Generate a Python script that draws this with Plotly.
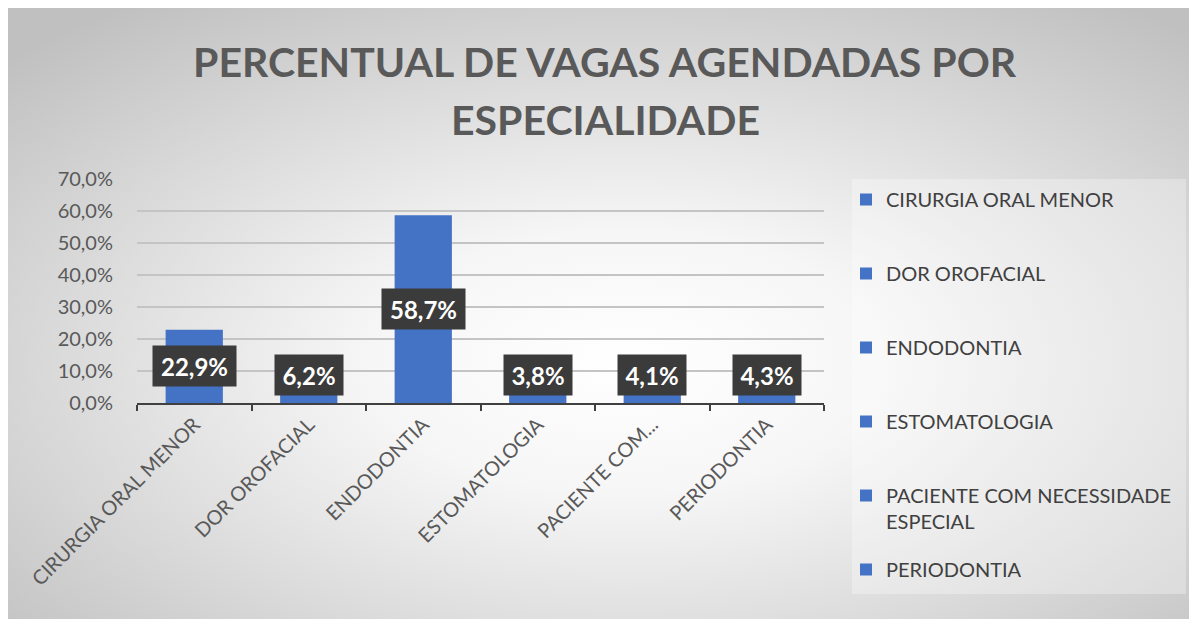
import base64
import plotly.graph_objects as go

# ---- data ----
categories = ["CIRURGIA ORAL MENOR", "DOR OROFACIAL", "ENDODONTIA",
              "ESTOMATOLOGIA", "PACIENTE COM NECESSIDADE ESPECIAL", "PERIODONTIA"]
legend_names = ["CIRURGIA ORAL MENOR", "DOR OROFACIAL", "ENDODONTIA",
                "ESTOMATOLOGIA", "PACIENTE COM NECESSIDADE<br>ESPECIAL", "PERIODONTIA"]
tick_labels = ["CIRURGIA ORAL MENOR", "DOR OROFACIAL", "ENDODONTIA",
               "ESTOMATOLOGIA", "PACIENTE COM...", "PERIODONTIA"]
values = [22.9, 6.2, 58.7, 3.8, 4.1, 4.3]
y_ticks = [0, 10, 20, 30, 40, 50, 60, 70]
y_tick_labels = ["0,0%", "10,0%", "20,0%", "30,0%", "40,0%", "50,0%", "60,0%", "70,0%"]

title_lines = ["PERCENTUAL DE VAGAS AGENDADAS POR", "ESPECIALIDADE"]

BLUE = "#4472C4"
FONT = "Lato"
OFF = 8  # page body margin
W, H = 1197 - OFF, 619 - OFF
L, R, T, B = 137 - OFF, W - (824 - OFF), 179 - OFF, H - (403 - OFF)
PW, PH = W - L - R, H - T - B

def px_x(p):
    return (p - OFF - L) / PW

def px_y(p):
    return (H - B - (p - OFF)) / PH

fig = go.Figure()
for i, (c, v) in enumerate(zip(categories, values)):
    fig.add_trace(go.Bar(
        x=[c], y=[v], name=legend_names[i], legendgroup=str(i),
        legend="legend2" if i == len(categories) - 1 else "legend",
        marker=dict(color=BLUE, line=dict(width=0)),
        width=0.5, hoverinfo="skip",
    ))

# data labels
annotations = []
for c, v in zip(categories, values):
    txt = f"{v:.1f}".replace(".", ",") + "%"
    annotations.append(dict(
        x=c, y=max(v / 2, 8.9), xref="x", yref="y",
        text=f"<b>{txt}</b>", showarrow=False,
        font=dict(family=FONT, size=24, color="white"),
        bgcolor="#3b3b3b", borderpad=0,
        width=15 * len(txt) + 8, height=40,
        xanchor="center", yanchor="middle",
    ))

# title lines
for line, ypix in zip(title_lines, [61, 119]):
    annotations.append(dict(
        x=px_x(605), y=px_y(ypix), xref="paper", yref="paper",
        text=f"<b>{line}</b>", showarrow=False,
        font=dict(family=FONT, size=41, color="#595959"),
        xanchor="center", yanchor="middle",
    ))

# background radial gradient (SVG image)
svg = f'''<svg xmlns="http://www.w3.org/2000/svg" width="{W}" height="{H}" viewBox="0 0 {W} {H}" preserveAspectRatio="none">
<defs><radialGradient id="g" cx="52%" cy="58%" r="72%" fx="52%" fy="58%">
<stop offset="0" stop-color="#ffffff"/>
<stop offset="0.3" stop-color="#f6f6f6"/>
<stop offset="1" stop-color="#c0c0c0"/>
</radialGradient></defs>
<rect x="0" y="0" width="{W}" height="{H}" fill="url(#g)"/>
</svg>'''
src = "data:image/svg+xml;base64," + base64.b64encode(svg.encode()).decode()

legend_common = dict(
    xanchor="left", yanchor="top",
    font=dict(family=FONT, size=20, color="#404040"),
    bgcolor="rgba(0,0,0,0)", borderwidth=0,
    traceorder="grouped", tracegroupgap=45,
    itemwidth=30, maxheight=600, valign="top",
)

fig.update_layout(
    width=W, height=H,
    margin=dict(l=L, r=R, t=T, b=B, pad=0, autoexpand=False),
    paper_bgcolor="white", plot_bgcolor="rgba(0,0,0,0)",
    barmode="overlay",
    showlegend=True,
    legend=dict(x=px_x(846), y=px_y(180), **legend_common),
    legend2=dict(x=px_x(846), y=px_y(550), **legend_common),
    shapes=[dict(
        type="rect", xref="paper", yref="paper", layer="below",
        x0=px_x(852), x1=px_x(1186), y0=px_y(594), y1=px_y(179),
        fillcolor="rgba(255,255,255,0.3)", line=dict(width=0),
    )],
    annotations=annotations,
    images=[dict(
        source=src, xref="paper", yref="paper",
        x=px_x(OFF), y=px_y(OFF), sizex=W / PW, sizey=H / PH,
        xanchor="left", yanchor="top", sizing="stretch", layer="below",
    )],
    font=dict(family=FONT, color="#595959"),
)

fig.update_yaxes(
    range=[0, 70], tickvals=y_ticks, ticktext=y_tick_labels,
    showgrid=True, gridcolor="#c4c4c4", gridwidth=1.5,
    zeroline=False, showline=False, ticks="",
    tickfont=dict(family=FONT, size=20, color="#595959"),
    ticklabelstandoff=23,
)
fig.update_xaxes(
    categoryorder="array", categoryarray=categories,
    tickvals=categories, ticktext=tick_labels,
    tickangle=-45, tickson="boundaries", ticks="outside", ticklen=6,
    tickcolor="#404040", tickwidth=2,
    showline=True, linecolor="#404040", linewidth=2,
    showgrid=False,
    tickfont=dict(family=FONT, size=20, color="#595959"),
)

fig.write_html("out.html")
